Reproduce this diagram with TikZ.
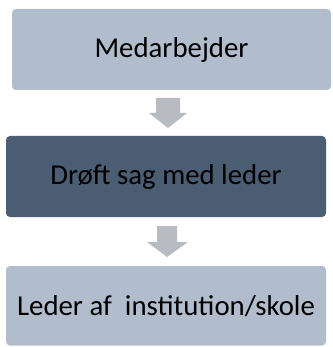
\documentclass[tikz,border=0pt]{standalone}
\usepackage{fontspec}
\setmainfont{Carlito}
\definecolor{lightbox}{HTML}{B1BDCC}
\definecolor{darkbox}{HTML}{4A5D73}
\definecolor{arrowgray}{HTML}{B8BBC2}
\tikzset{
  stepbox/.style={draw=none, rounded corners=4pt, inner sep=0pt, font=\fontsize{28.8}{32}\selectfont, text=black},
  downarrow/.style={fill=arrowgray, draw=none}
}
\begin{document}
\begin{tikzpicture}[x=1pt,y=-1pt]
\useasboundingbox (0,0) rectangle (332,347);
% boxes
\fill[lightbox, rounded corners=4pt] (12,9) rectangle (331,90);
\node[stepbox] (b1) at (171.5,50) {Medarbejder};
\fill[darkbox, rounded corners=4pt] (6,136) rectangle (326,217);
\node[stepbox] (b2) at (166,177) {Drøft sag med leder};
\fill[lightbox, rounded corners=4pt] (6,266) rectangle (326,345.5);
\node[stepbox] (b3) at (166,306) {Leder af\ \ institution/skole};
% arrows
\fill[downarrow] (156,98) -- (180,98) -- (180,113) -- (187,113) -- (168,128) -- (149,113) -- (156,113) -- cycle;
\fill[downarrow] (157,226) -- (177,226) -- (177,242) -- (188,242) -- (167,257) -- (147,242) -- (157,242) -- cycle;
\end{tikzpicture}
\end{document}
